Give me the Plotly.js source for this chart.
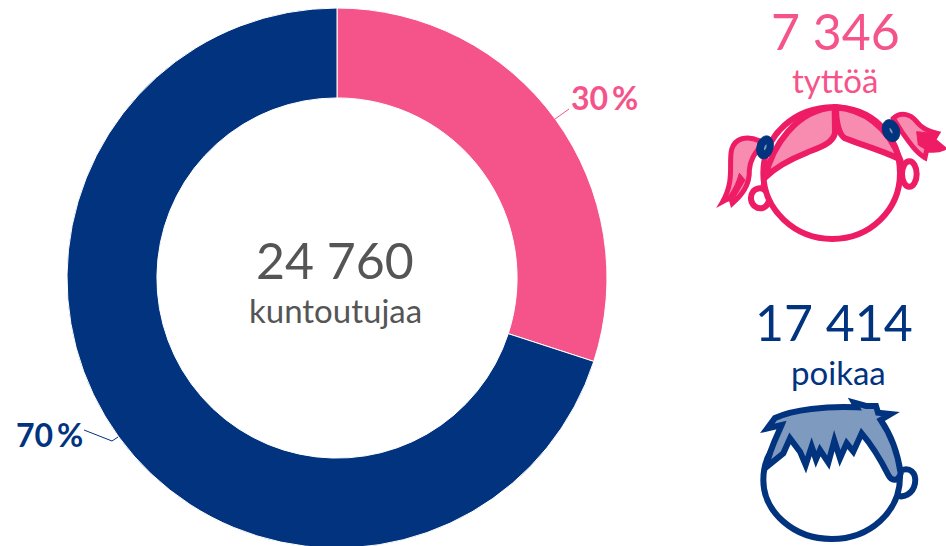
<!DOCTYPE html>
<html><head><meta charset="utf-8">
<script src="https://cdn.plot.ly/plotly-3.0.1.min.js"></script>
<style>html,body{margin:0;padding:0;background:#fff;overflow:hidden;height:546px}#c{width:946px;height:548px}</style>
</head><body><div id="c"></div>
<script>
var categories=['tyttöä','poikaa'];
var shares=[30,70];
var percentLabels=['30\u2009%','70\u2009%'];
var totalLabel='24 760';
var totalCaption='kuntoutujaa';
var countLabels=['7 346','17 414'];
var PINK='#f5548a',NAVY='#01337f',GREY='#555555',HOT='#ee1c64',LPINK='#f78cb0',LBLUE='#7f9abf';
var W=946,H=548;
function px(x){return x/W} function py(y){return 1-y/H}
function tr(d,ox,oy){return d.replace(/(-?[\d.]+),(-?[\d.]+)/g,function(m,a,b){
  return px(ox+a/3).toFixed(5)+','+py(oy+b/3).toFixed(5)})}
function ell(cx,cy,rx,ry,deg){var k=.5523,t=deg*Math.PI/180,c=Math.cos(t),s=Math.sin(t);
  function p(u,v){return (cx+u*rx*c-v*ry*s).toFixed(1)+','+(cy+u*rx*s+v*ry*c).toFixed(1)}
  return 'M '+p(1,0)+' C '+p(1,k)+' '+p(k,1)+' '+p(0,1)+' C '+p(-k,1)+' '+p(-1,k)+' '+p(-1,0)+' C '+p(-1,-k)+' '+p(-k,-1)+' '+p(0,-1)+' C '+p(k,-1)+' '+p(1,-k)+' '+p(1,0)+' Z'}
function icon(d,ox,oy,fill,line,w){return {type:'path',xref:'paper',yref:'paper',path:tr(d,ox,oy),
  fillcolor:fill,line:{color:line,width:w===undefined?6:w},layer:'above'}}
var gx=700,gy=90,bx=740,by=390;
var shapes=[
 {type:'line',xref:'paper',yref:'paper',x0:px(555),y0:py(119),x1:px(569),y1:py(109),line:{color:PINK,width:1}},
 {type:'path',xref:'paper',yref:'paper',path:'M '+px(84)+','+py(430)+' L '+px(112)+','+py(441)+' L '+px(118)+','+py(437),line:{color:NAVY,width:1}},
 // girl
 icon(ell(180,325,27,30,-10),gx,gy,'#ffffff',HOT),
 icon(ell(628,252,22,38,0),gx,gy,'#ffffff',HOT),
 icon('M 190,250 C 190,130 290,52 400,52 C 510,52 600,130 600,250 C 600,360 510,447 397,447 C 285,447 190,360 190,250 Z',gx,gy,'#ffffff',HOT),
 icon('M 196,262 C 215,170 290,58 404,52 L 405,130 C 395,165 350,175 320,188 C 270,208 230,228 196,262 Z',gx,gy,LPINK,HOT),
 icon('M 408,52 C 490,58 565,110 600,208 C 540,178 470,160 435,145 C 418,135 408,100 408,52 Z',gx,gy,LPINK,HOT),
 icon('M 178,152 C 140,135 105,145 95,178 C 85,220 105,270 68,335 L 92,322 L 97,340 C 125,315 150,285 148,240 C 150,210 165,190 180,170 Z',gx,gy,LPINK,HOT,5),
 icon('M 118,250 L 135,270 L 100,330 L 72,335 C 95,310 110,280 118,250 Z',gx,gy,HOT,HOT,1),
 icon('M 580,85 C 600,65 630,70 650,95 C 665,115 690,125 712,130 L 700,150 L 730,175 C 710,185 690,180 680,180 L 675,203 C 650,190 630,160 605,125 Z',gx,gy,LPINK,HOT,5),
 icon('M 650,125 L 712,132 L 702,150 L 730,175 L 680,180 L 655,165 Z',gx,gy,HOT,HOT,1),
 icon(ell(195,172,24,35,15),gx,gy,NAVY,NAVY,1),
 icon(ell(573,122,25,34,-20),gx,gy,NAVY,NAVY,1),
 icon(ell(196,172,3,9,20),gx,gy,LBLUE,LBLUE,0),
 icon(ell(573,122,3,9,-25),gx,gy,LBLUE,LBLUE,0),
 // boy
 icon('M 475,245 C 510,225 530,250 525,280 C 520,310 490,330 462,312',bx,by,'#ffffff',NAVY),
 icon('M 70,270 C 70,170 150,95 275,95 C 390,95 480,170 480,260 C 480,365 390,447 275,447 C 160,447 70,365 70,270 Z',bx,by,'#ffffff',NAVY),
 icon('M 82,115 L 105,84 C 160,58 260,48 350,52 L 342,38 L 378,48 L 408,48 L 414,68 L 452,72 L 422,90 C 450,130 472,180 482,250 C 475,275 455,275 445,255 C 420,205 395,165 365,130 L 340,185 L 320,160 L 300,205 L 283,152 L 265,218 L 240,180 L 228,208 L 215,170 L 197,225 L 180,185 L 150,145 L 130,190 L 78,232 C 90,175 115,130 125,105 Z',bx,by,LBLUE,NAVY)
];
function ann(x,y,text,size,color){return {xref:'paper',yref:'paper',x:px(x),y:py(y),text:text,showarrow:false,
  xanchor:'center',yanchor:'middle',font:{family:'Lato, sans-serif',size:size,color:color}}}
var annotations=[
 ann(335,260,totalLabel,50,GREY),
 ann(335,309.5,totalCaption,33,GREY),
 ann(604,98,'<b>'+percentLabels[0]+'</b>',32,PINK),
 ann(49,435,'<b>'+percentLabels[1]+'</b>',32,NAVY),
 ann(835,31,countLabels[0],50,PINK),
 ann(835,80,categories[0],33,PINK),
 ann(834,322,countLabels[1],50,NAVY),
 ann(838,372,categories[1],33,NAVY)
];
Plotly.newPlot('c',[{type:'pie',labels:categories,values:shares,hole:.667,sort:false,direction:'clockwise',rotation:0,
  textinfo:'none',hoverinfo:'none',marker:{colors:[PINK,NAVY],line:{color:'#ffffff',width:1}},
  domain:{x:[67/W,607/W],y:[0,540/H]}}],
 {width:W,height:H,margin:{l:0,r:0,t:0,b:0},paper_bgcolor:'#fff',showlegend:false,shapes:shapes,annotations:annotations},
 {displayModeBar:false,staticPlot:true});
</script></body></html>
